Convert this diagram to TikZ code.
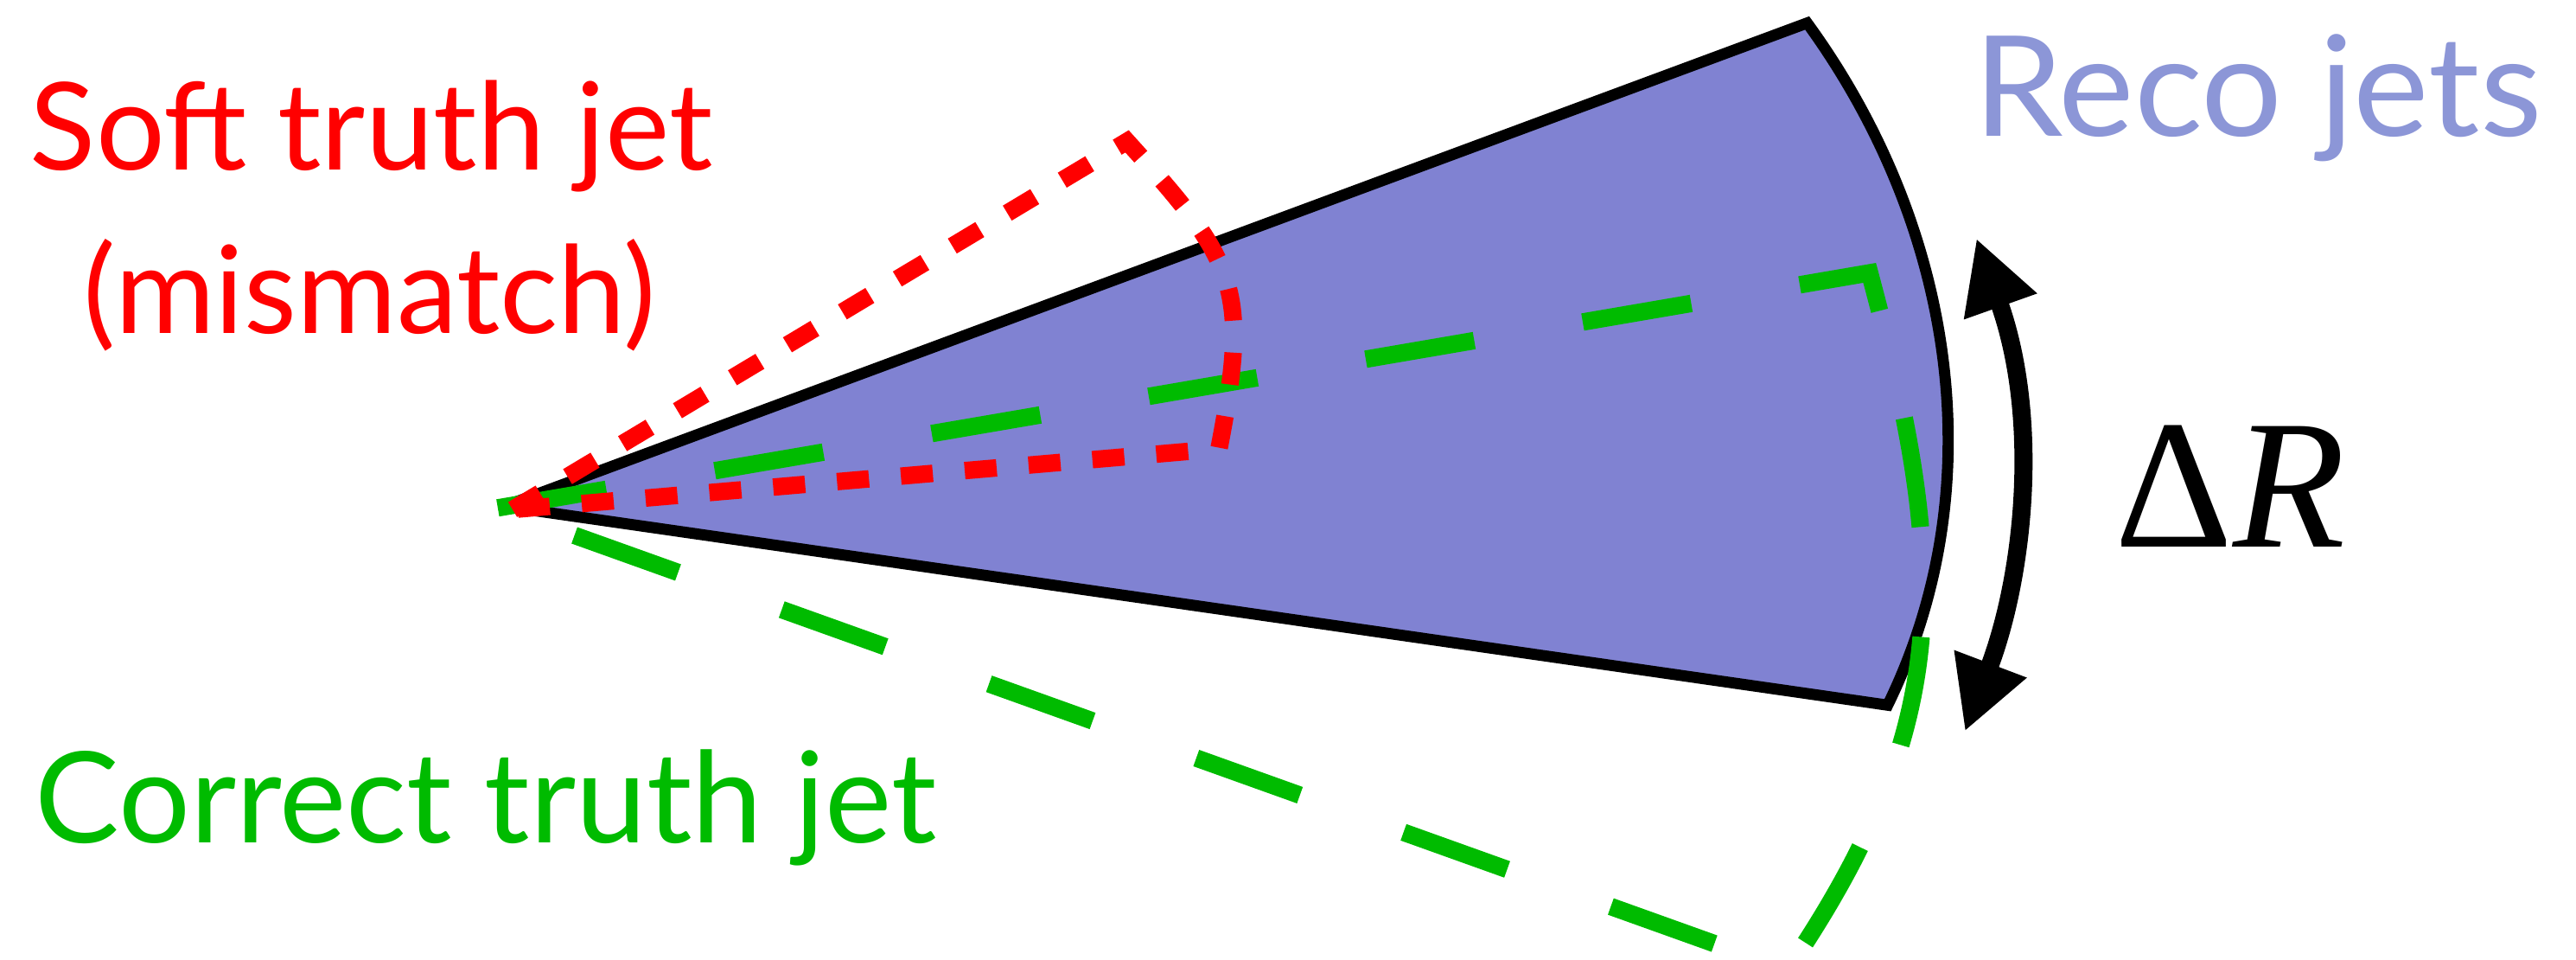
\documentclass[tikz,border=0pt]{standalone}
\usepackage{fontspec}
\setmainfont{Lato}
\newfontfamily\serifR{Liberation Serif}
\usetikzlibrary{arrows.meta}
\definecolor{conefill}{RGB}{128,130,210}
\definecolor{recotext}{RGB}{140,150,215}
\definecolor{truthgreen}{RGB}{0,187,0}
\definecolor{softred}{RGB}{255,0,0}
\begin{document}
\begin{tikzpicture}[x=0.5pt,y=-0.5pt,
  recocone/.style={fill=conefill, draw=black, line width=3.4pt, line join=miter, miter limit=3},
  greenjet/.style={draw=truthgreen, line width=5.3pt, line join=miter, dash pattern=on 33.5pt off 33.5pt},
  redjet/.style={draw=softred, line width=5.3pt, line join=miter, dash pattern=on 9.75pt off 9.75pt},
  lbl/.style={inner sep=0pt, font=\fontsize{37}{44}\selectfont},
  corrlbl/.style={inner sep=0pt, font=\fontsize{38.5}{44}\selectfont, text=truthgreen},
  recolbl/.style={inner sep=0pt, font=\addfontfeature{FakeStretch=1.025}\fontsize{42.5}{48}\selectfont, text=recotext},
  drlbl/.style={inner sep=0pt, font=\serifR\fontsize{56}{64}\selectfont},
  drarrow/.style={line width=5.5pt, {Triangle[length=22pt,width=22pt]}-{Triangle[length=22pt,width=22pt]}}
]
\clip (0,0) rectangle (1568,584);
% reco cone
\coordinate (ra) at (307,308);
\coordinate (ru) at (1100,14);
\coordinate (rl) at (1149,429);
\draw[recocone] (ra) -- (ru) .. controls (1188.5,135.5) and (1215,294) .. (rl) -- cycle;
% correct truth jet (green)
\coordinate (ga) at (303,309);
\coordinate (gu) at (1138,166);
\coordinate (gl) at (1088,590);
\draw[greenjet] (ga) -- (gu) .. controls (1186,345) and (1190,440) .. (gl) -- cycle;
% soft truth jet (red)
\coordinate (sa) at (312,310);
\coordinate (su) at (686,86);
\coordinate (sl) at (742,273);
\draw[redjet] (sa) -- (su) .. controls (753,160) and (761,175) .. (sl) -- cycle;
% Delta R arrow
\coordinate (atop) at (1203,145);
\coordinate (abot) at (1196,445);
\draw[drarrow] (atop) .. controls (1242,255) and (1232,350) .. (abot);
% labels
\node[lbl, text=softred, anchor=base] (soft) at (226,103.5) {Soft truth jet};
\node[lbl, text=softred, anchor=base] (mis) at (225,202.6) {(mismatch)};
\node[corrlbl, anchor=base west] (corr) at (21,513) {Correct truth jet};
\node[recolbl, anchor=base west] (reco) at (1201,83) {Reco jets};
\node[drlbl, anchor=base west] (dr) at (1287,333) {Δ\itshape R};
\end{tikzpicture}
\end{document}
